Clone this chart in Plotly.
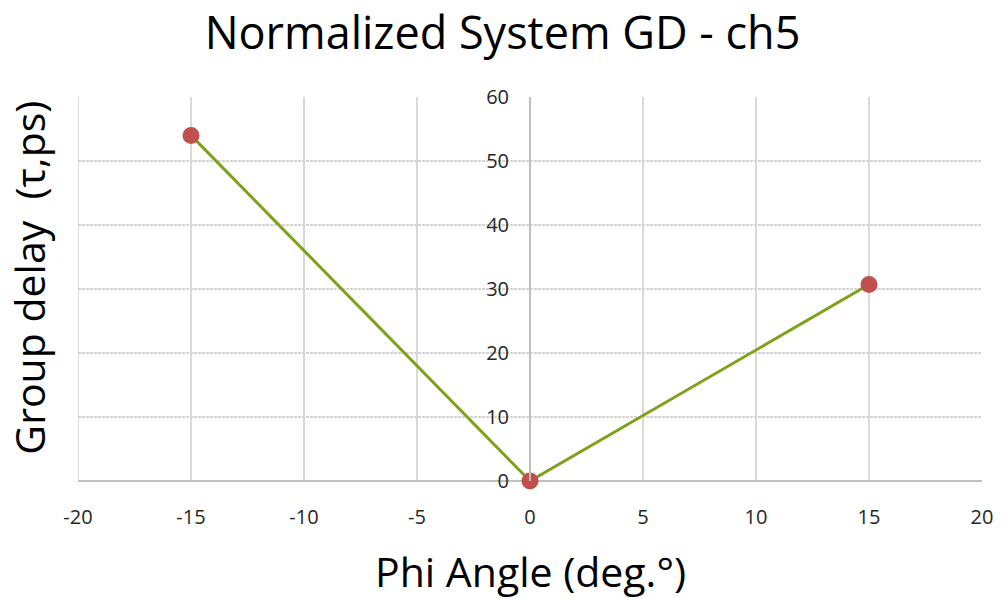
import plotly.graph_objects as go

phi = [-15, 0, 15]
group_delay = [54, 0, 30.7]
x_ticks = [-20, -15, -10, -5, 0, 5, 10, 15, 20]
y_ticks = [0, 10, 20, 30, 40, 50, 60]

FONT = "Open Sans"

fig = go.Figure()
fig.add_trace(go.Scatter(
    x=phi, y=group_delay, mode="lines+markers",
    line=dict(color="#7DA21A", width=3),
    marker=dict(color="#C0504D", size=17),
    cliponaxis=False,
    showlegend=False,
))

fig.update_layout(
    width=1005, height=598,
    paper_bgcolor="white", plot_bgcolor="white",
    margin=dict(l=78, r=19, t=97, b=117),
    title=dict(text="Normalized System GD - ch5", x=0.5, xanchor="center",
               y=0.945, yanchor="middle",
               font=dict(family=FONT, size=45, color="#000000")),
    font=dict(family=FONT, color="#262626"),
)

fig.update_xaxes(
    range=[-20, 20], tickvals=x_ticks, ticktext=[str(v) for v in x_ticks],
    showgrid=True, gridcolor="#D9D9D9", gridwidth=2,
    zeroline=False, showline=False,
    tickfont=dict(family=FONT, size=20, color="#262626"),
    ticks="", ticklabelstandoff=22,
)
fig.update_yaxes(
    range=[0, 60], tickvals=y_ticks,
    showgrid=True, gridcolor="#D4D4D4", gridwidth=2, griddash="3px,1px",
    zeroline=True, zerolinecolor="#BFBFBF", zerolinewidth=2,
    showline=True, linecolor="#BFBFBF", linewidth=2,
    anchor="free", position=0.5,
    tickfont=dict(family=FONT, size=20, color="#262626"),
    ticks="", ticklabelstandoff=16,
)

fig.add_shape(type="line", xref="x", yref="y", x0=-20, x1=-20, y0=0, y1=60,
              line=dict(color="#D9D9D9", width=2), layer="below")

fig.add_annotation(text="Group delay  (τ,ps)", xref="paper", yref="paper",
                   x=-0.054, y=0.53, xanchor="center", yanchor="middle",
                   textangle=-90, showarrow=False,
                   font=dict(family=FONT, size=41, color="#000000"))
fig.add_annotation(text="Phi Angle (deg.°)", xref="paper", yref="paper",
                   x=0.5, y=-0.235, xanchor="center", yanchor="middle",
                   showarrow=False,
                   font=dict(family=FONT, size=41, color="#000000"))

fig.write_html("out.html")
